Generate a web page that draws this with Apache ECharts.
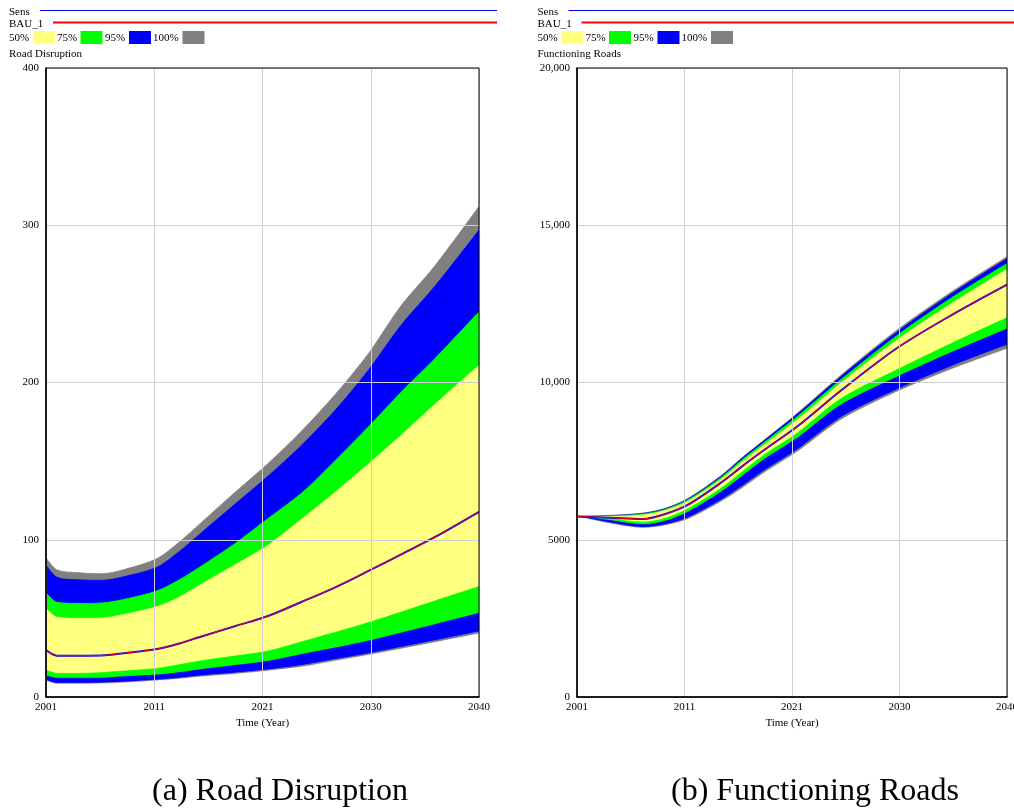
<!DOCTYPE html>
<html><head><meta charset="utf-8">
<script src="https://cdn.jsdelivr.net/npm/echarts@6/dist/echarts.min.js"></script>
<style>html,body{margin:0;padding:0;background:#fff}#c{width:1014px;height:808px}</style>
</head><body><div id="c"></div>
<script>
// ---------- Road Disruption (left) ----------
const roadYears = [2001,2002,2004,2006,2008,2011,2013,2015,2018,2021,2024,2027,2030,2033,2036,2040];
const roadGrayHi   = [88.6,80.8,79,78.4,81,88,98.5,111,130,148.5,169,192,218,249,274,312];
const roadBlueHi   = [83.9,76.1,74.5,74.2,76.5,82.5,92.5,104.5,122.5,140.5,160,182,207.5,236.6,261,297];
const roadGreenHi  = [66.3,60.2,59.5,59.8,62,67.5,74.5,83.3,97.5,113.5,129.5,150,171.5,194,215,245];
const roadYellowHi = [56.4,50.7,50,50.2,52.5,57.5,63.5,71.8,84,96.5,113,130,148,166.6,186,211];
const roadMid      = [29.9,26.3,26.3,26.4,27.8,30.5,34,38.5,45,51.5,60.4,69.6,80,90.7,101.6,117.8];
const roadYellowLo = [17.2,15,15,15.5,16.5,18.2,20.5,23,26,29.2,35,41,47.2,54,61,70.2];
const roadGreenLo  = [13.5,11.9,11.9,12,12.9,14,15.5,17.5,20,22.7,27,31.1,35.5,40.7,46,53.2];
const roadBlueLo   = [10.8,8.7,8.7,8.9,9.5,10.8,12,13.5,15.2,17.3,20,23.8,27.5,31.6,35.8,41.5];
const roadGrayLo   = [10.2,8.3,8.3,8.5,9,10.3,11.4,12.8,14.5,16.5,19,22.8,26.5,30.5,34.6,40.2];

// ---------- Functioning Roads (right) ----------
const funcYears = [2001,2004,2007,2009,2011,2014,2016,2018,2021,2025,2030,2035,2040];
const funcGrayHi   = [5740,5775,5850,6000,6300,7020,7620,8180,9030,10250,11660,12890,14000];
const funcBlueHi   = [5740,5765,5835,5985,6280,7000,7600,8160,8999,10210,11600,12830,13940];
const funcGreenHi  = [5740,5755,5815,5965,6255,6960,7550,8100,8925,10110,11490,12700,13780];
const funcYellowHi = [5740,5740,5790,5930,6210,6900,7480,8020,8820,10000,11350,12520,13600];
const funcMid      = [5740,5700,5660,5820,6100,6800,7340,7860,8608,9760,11088,12150,13113];
const funcYellowLo = [5740,5660,5560,5680,5970,6620,7163,7700,8397,9500,10402,11250,12058];
const funcGreenLo  = [5740,5610,5480,5590,5866,6500,7026,7560,8239,9300,10170,10960,11700];
const funcBlueLo   = [5740,5540,5390,5480,5690,6250,6710,7200,7870,8900,9769,10520,11193];
const funcGrayLo   = [5740,5510,5370,5450,5640,6190,6636,7130,7796,8820,9695,10420,11066];

// ---------- tick labels ----------
const xTickLabels = ['2001','2011','2021','2030','2040'];
const roadYLabels = ['0','100','200','300','400'];
const funcYLabels = ['0','5000','10,000','15,000','20,000'];

const FONT = 'Liberation Serif';
const C_Y = '#ffff80', C_G = '#00ff00', C_B = '#0000ff', C_K = '#808080';
const START = 2001, XSPAN = 39, XSTEP = 9.75;
const SMOOTH = 0.3;

// Bands are painted as areas filled down to the axis, outermost first;
// each inner boundary covers the previous one, the lowest one is painted white.
function bandSeries(idx, years, lo100, lo95, lo75, lo50, hi50, hi75, hi95, hi100, mid) {
  const xs = years.map(y => y - START);
  const layers = [
    [hi100, C_K], [hi95, C_B], [hi75, C_G], [hi50, C_Y],
    [lo50, C_G], [lo75, C_B], [lo95, C_K], [lo100, '#ffffff']
  ];
  const out = layers.map(([arr, col]) => ({
    type: 'line', xAxisIndex: idx, yAxisIndex: idx,
    data: xs.map((x, i) => [x, arr[i]]),
    symbol: 'none', smooth: SMOOTH, silent: true, animation: false,
    lineStyle: { color: col, width: 0.8 },
    areaStyle: { color: col, opacity: 1, origin: 'start' },
    z: 1
  }));
  const midData = xs.map((x, i) => [x, mid[i]]);
  out.push({ type: 'line', name: 'Sens', xAxisIndex: idx, yAxisIndex: idx, data: midData,
    symbol: 'none', smooth: SMOOTH, silent: true, animation: false,
    lineStyle: { color: C_B, width: 2 }, z: 2 });
  out.push({ type: 'line', name: 'BAU_1', xAxisIndex: idx, yAxisIndex: idx, data: midData,
    symbol: 'none', smooth: SMOOTH, silent: true, animation: false,
    lineStyle: { color: '#ff0000', width: 1 }, z: 2 });
  return out;
}

function legendGraphics(dx, lineEnd, title) {
  const t = (x, y, s) => ({ type: 'text', x: x, y: y, silent: true,
    style: { text: s, font: '11px "' + FONT + '"', fill: '#000', textVerticalAlign: 'middle' } });
  const r = (x, w, col) => ({ type: 'rect', silent: true, shape: { x: x, y: 31, width: w, height: 13 }, style: { fill: col } });
  return [
    t(9 + dx, 12, 'Sens'),
    { type: 'line', silent: true, shape: { x1: 40 + dx, y1: 10.5, x2: lineEnd, y2: 10.5 }, style: { stroke: C_B, lineWidth: 1.2 } },
    t(9 + dx, 24, 'BAU_1'),
    { type: 'line', silent: true, shape: { x1: 53 + dx, y1: 22.5, x2: lineEnd, y2: 22.5 }, style: { stroke: '#ff0000', lineWidth: 2 } },
    t(9 + dx, 38, '50%'), r(33 + dx, 22, C_Y),
    t(57 + dx, 38, '75%'), r(80.5 + dx, 22, C_G),
    t(105 + dx, 38, '95%'), r(129 + dx, 22, C_B),
    t(153 + dx, 38, '100%'), r(182.5 + dx, 22, C_K),
    t(9 + dx, 54, title)
  ];
}

const axisLabelStyle = { fontFamily: FONT, fontSize: 11, color: '#000' };
function xAxis(idx) {
  return { type: 'value', gridIndex: idx, min: 0, max: XSPAN, interval: XSTEP, z: 5,
    name: 'Time (Year)', nameLocation: 'middle', nameGap: 20,
    nameTextStyle: { fontFamily: FONT, fontSize: 11, color: '#000' },
    axisLine: { show: true, onZero: false, lineStyle: { color: '#000', width: 1.5 } },
    axisTick: { show: false },
    splitLine: { show: true, lineStyle: { color: '#d0d0d0', width: 1 } },
    axisLabel: Object.assign({ margin: 5, hideOverlap: false, formatter: v => xTickLabels[Math.round(v / XSTEP)] }, axisLabelStyle) };
}
function yAxis(idx, max, step, labels) {
  return { type: 'value', gridIndex: idx, min: 0, max: max, interval: step, z: 5,
    axisLine: { show: true, lineStyle: { color: '#000', width: 1.5 } },
    axisTick: { show: false },
    splitLine: { show: true, lineStyle: { color: '#d0d0d0', width: 1 } },
    axisLabel: Object.assign({ margin: 7, formatter: v => labels[Math.round(v / step)] }, axisLabelStyle) };
}

const chart = echarts.init(document.getElementById('c'), null, { renderer: 'canvas' });
chart.setOption({
  backgroundColor: '#fff',
  animation: false,
  grid: [
    { left: 46, top: 68, width: 433, height: 629, show: true, borderColor: '#000', borderWidth: 1, z: 6, containLabel: false, outerBoundsMode: 'none' },
    { left: 577, top: 68, width: 430, height: 629, show: true, borderColor: '#000', borderWidth: 1, z: 6, containLabel: false, outerBoundsMode: 'none' }
  ],
  xAxis: [xAxis(0), xAxis(1)],
  yAxis: [yAxis(0, 400, 100, roadYLabels), yAxis(1, 20000, 5000, funcYLabels)],
  series: [].concat(
    bandSeries(0, roadYears, roadGrayLo, roadBlueLo, roadGreenLo, roadYellowLo, roadYellowHi, roadGreenHi, roadBlueHi, roadGrayHi, roadMid),
    bandSeries(1, funcYears, funcGrayLo, funcBlueLo, funcGreenLo, funcYellowLo, funcYellowHi, funcGreenHi, funcBlueHi, funcGrayHi, funcMid)
  ),
  graphic: [].concat(
    legendGraphics(0, 497, 'Road Disruption'),
    legendGraphics(528.5, 1014, 'Functioning Roads'),
    [
      { type: 'text', x: 280, y: 792, silent: true, style: { text: '(a) Road Disruption', font: '32px "' + FONT + '"', fill: '#000', textAlign: 'center', textVerticalAlign: 'middle' } },
      { type: 'text', x: 815, y: 792, silent: true, style: { text: '(b) Functioning Roads', font: '32px "' + FONT + '"', fill: '#000', textAlign: 'center', textVerticalAlign: 'middle' } }
    ]
  )
});
</script></body></html>
